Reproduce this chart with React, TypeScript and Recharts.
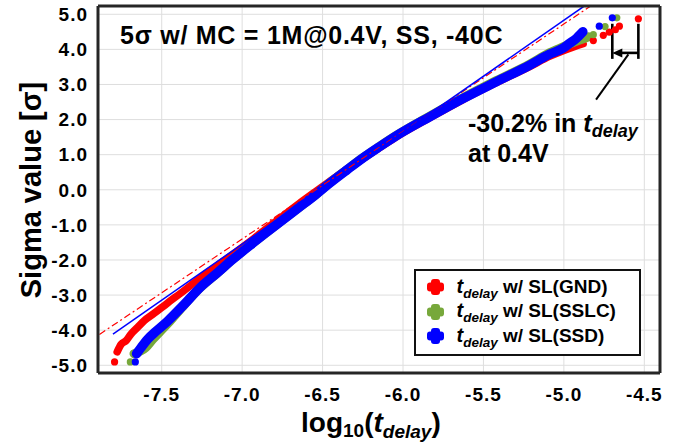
import React from 'react';
import {
  ComposedChart,
  Line,
  Scatter,
  XAxis,
  YAxis,
  CartesianGrid,
  ReferenceLine,
  Legend,
} from 'recharts';

const FONT = '"Liberation Sans", Arial, Helvetica, sans-serif';

const X_TICKS = [-7.5, -7.0, -6.5, -6.0, -5.5, -5.0, -4.5];
const Y_TICKS = [-5, -4, -3, -2, -1, 0, 1, 2, 3, 4, 5];
const X_DOMAIN = [-7.896, -4.4025];
const Y_DOMAIN = [-5.22, 5.236];

// centre of the dense band of MC samples (log10 t_delay vs sigma)
const gndBand = [
  { x: -7.777, y: -4.62 }, { x: -7.752, y: -4.4 }, { x: -7.721, y: -4.3 },
  { x: -7.691, y: -4.11 }, { x: -7.65, y: -3.92 }, { x: -7.609, y: -3.73 },
  { x: -7.547, y: -3.52 }, { x: -7.465, y: -3.23 }, { x: -7.363, y: -2.88 },
  { x: -7.26, y: -2.51 }, { x: -7.158, y: -2.17 }, { x: -7.055, y: -1.83 },
  { x: -6.953, y: -1.48 }, { x: -6.85, y: -1.11 }, { x: -6.748, y: -0.75 },
  { x: -6.645, y: -0.39 }, { x: -6.543, y: -0.05 }, { x: -6.455, y: 0.24 },
  { x: -6.35, y: 0.58 }, { x: -6.248, y: 0.89 }, { x: -6.145, y: 1.2 },
  { x: -6.041, y: 1.51 }, { x: -5.834, y: 2.05 }, { x: -5.627, y: 2.57 },
  { x: -5.42, y: 3.05 }, { x: -5.213, y: 3.51 }, { x: -5.09, y: 3.8 },
  { x: -5.0, y: 3.97 }, { x: -4.94, y: 4.07 }, { x: -4.88, y: 4.16 },
];
const sslcBand = [
  { x: -7.672, y: -4.67 }, { x: -7.6, y: -4.5 }, { x: -7.555, y: -4.26 },
  { x: -7.51, y: -4.04 }, { x: -7.45, y: -3.75 }, { x: -7.36, y: -3.28 },
  { x: -7.258, y: -2.78 }, { x: -7.156, y: -2.38 }, { x: -7.055, y: -1.97 },
  { x: -6.953, y: -1.59 }, { x: -6.85, y: -1.22 }, { x: -6.748, y: -0.86 },
  { x: -6.645, y: -0.5 }, { x: -6.543, y: -0.14 }, { x: -6.455, y: 0.2 },
  { x: -6.35, y: 0.57 }, { x: -6.248, y: 0.92 }, { x: -6.145, y: 1.24 },
  { x: -6.041, y: 1.55 }, { x: -5.834, y: 2.1 }, { x: -5.627, y: 2.62 },
  { x: -5.42, y: 3.11 }, { x: -5.213, y: 3.58 }, { x: -5.09, y: 3.9 },
  { x: -5.006, y: 4.07 }, { x: -4.94, y: 4.2 }, { x: -4.88, y: 4.3 },
  { x: -4.848, y: 4.36 },
];
const ssdBand = [
  { x: -7.656, y: -4.67 }, { x: -7.629, y: -4.5 }, { x: -7.588, y: -4.26 },
  { x: -7.537, y: -4.04 }, { x: -7.465, y: -3.75 }, { x: -7.363, y: -3.28 },
  { x: -7.26, y: -2.78 }, { x: -7.158, y: -2.38 }, { x: -7.055, y: -1.97 },
  { x: -6.953, y: -1.59 }, { x: -6.85, y: -1.22 }, { x: -6.748, y: -0.86 },
  { x: -6.645, y: -0.5 }, { x: -6.543, y: -0.14 }, { x: -6.455, y: 0.19 },
  { x: -6.35, y: 0.56 }, { x: -6.248, y: 0.91 }, { x: -6.145, y: 1.23 },
  { x: -6.041, y: 1.54 }, { x: -5.834, y: 2.08 }, { x: -5.627, y: 2.6 },
  { x: -5.42, y: 3.08 }, { x: -5.213, y: 3.55 }, { x: -5.09, y: 3.86 },
  { x: -5.006, y: 4.03 }, { x: -4.965, y: 4.17 }, { x: -4.923, y: 4.31 },
  { x: -4.882, y: 4.5 },
];

// isolated samples at both tails
const gndTail = [
  { x: -7.793, y: -4.905 }, { x: -4.817, y: 4.25 }, { x: -4.755, y: 4.4 },
  { x: -4.718, y: 4.49 }, { x: -4.68, y: 4.56 }, { x: -4.655, y: 4.66 },
  { x: -4.537, y: 4.87 },
];
const sslcTail = [
  { x: -7.695, y: -4.905 }, { x: -4.817, y: 4.42 }, { x: -4.744, y: 4.65 },
  { x: -4.671, y: 4.9 },
];
const ssdTail = [
  { x: -7.664, y: -4.905 }, { x: -4.78, y: 4.66 }, { x: -4.699, y: 4.9 },
];

// fitted normal lines
const gndFit = [{ x: -7.887, y: -4.12 }, { x: -4.838, y: 5.22 }];
const ssdFit = [{ x: -7.803, y: -4.11 }, { x: -4.878, y: 5.22 }];

// -30.2% bracket annotation
const BRACKET_X = [-4.699, -4.537];
const BRACKET_Y = [3.73, 4.73];
const ARROW_Y = 3.9;
const LEADER = [{ x: -4.599, y: 3.86 }, { x: -4.8, y: 2.57 }];

const SERIES = [
  { name: 'SL(GND)', color: '#ff0000', band: gndBand, tail: gndTail, width: 7.5 },
  { name: 'SL(SSLC)', color: '#77a83b', band: sslcBand, tail: sslcTail, width: 9 },
  { name: 'SL(SSD)', color: '#0000ff', band: ssdBand, tail: ssdTail, width: 9.5 },
];

const AXIS_DARK = '#262626';
const TICK_GREY = '#8c8c8c';
const tickStyle = { fontSize: 19, fontWeight: 'bold', fill: '#000', fontFamily: FONT, letterSpacing: 1 };

function ArrowShape(props: any) {
  const { x1, y1, x2, y2 } = props;
  const dir = x2 < x1 ? 1 : -1;
  return (
    <g>
      <line x1={x1} y1={y1} x2={x2 + dir * 6} y2={y2} stroke="#000" strokeWidth={2.6} />
      <polygon points={`${x2},${y2} ${x2 + dir * 10},${y2 - 4.5} ${x2 + dir * 10},${y2 + 4.5}`} fill="#000" />
    </g>
  );
}

function LegendBox() {
  return (
    <div
      style={{
        width: 227,
        height: 87,
        boxSizing: 'border-box',
        border: '2.5px solid #111',
        background: '#fff',
        padding: '4px 0 0 10.5px',
      }}
    >
      {SERIES.map(s => (
        <div key={s.name} style={{ display: 'flex', alignItems: 'center', height: 24.5 }}>
          <svg width={17} height={16} style={{ flex: 'none' }}>
            <rect x={0} y={3.5} width={17} height={9} rx={3} fill={s.color} />
            <rect x={4} y={0} width={9} height={16} rx={3} fill={s.color} />
          </svg>
          <span
            style={{
              marginLeft: 13,
              fontFamily: FONT,
              fontWeight: 'bold',
              fontSize: 19,
              color: '#000',
              whiteSpace: 'nowrap',
              lineHeight: '20px',
            }}
          >
            <span style={{ fontStyle: 'italic', fontSize: 20 }}>t</span>
            <span style={{ fontStyle: 'italic', fontSize: 13.5, position: 'relative', top: 5 }}>delay</span>
            {' w/ ' + s.name}
          </span>
        </div>
      ))}
    </div>
  );
}

export default function App() {
  return (
    <div style={{ position: 'absolute', left: 0, top: 0, width: 686, height: 447, background: '#fff' }}>
      <ComposedChart width={686} height={447} margin={{ top: 6, right: 26, bottom: 44, left: 8 }}>
        <CartesianGrid stroke="#dedede" strokeWidth={1} />

        <XAxis
          type="number"
          dataKey="x"
          domain={X_DOMAIN}
          ticks={X_TICKS}
          allowDataOverflow
          height={30}
          tickLine={false}
          tickMargin={9}
          axisLine={{ stroke: AXIS_DARK, strokeWidth: 3 }}
          tick={tickStyle}
          tickFormatter={(v: number) => v.toFixed(1)}
        />
        <YAxis
          type="number"
          dataKey="y"
          domain={Y_DOMAIN}
          ticks={Y_TICKS}
          allowDataOverflow
          width={90}
          tickLine={false}
          tickMargin={4}
          axisLine={{ stroke: AXIS_DARK, strokeWidth: 3 }}
          tick={tickStyle}
          tickFormatter={(v: number) => v.toFixed(1)}
        />
        {/* frame + inward ticks */}
        <XAxis xAxisId="top" orientation="top" mirror type="number" domain={X_DOMAIN} ticks={X_TICKS}
          allowDataOverflow tick={false} tickSize={6} tickLine={{ stroke: TICK_GREY, strokeWidth: 1.5 }}
          axisLine={{ stroke: AXIS_DARK, strokeWidth: 3 }} />
        <XAxis xAxisId="inner" orientation="bottom" mirror type="number" domain={X_DOMAIN} ticks={X_TICKS}
          allowDataOverflow tick={false} tickSize={6} tickLine={{ stroke: TICK_GREY, strokeWidth: 1.5 }}
          axisLine={false} />
        <YAxis yAxisId="right" orientation="right" mirror type="number" domain={Y_DOMAIN} ticks={Y_TICKS}
          allowDataOverflow tick={false} tickSize={6} tickLine={{ stroke: TICK_GREY, strokeWidth: 1.5 }}
          axisLine={{ stroke: AXIS_DARK, strokeWidth: 3 }} />
        <YAxis yAxisId="inner" orientation="left" mirror type="number" domain={Y_DOMAIN} ticks={Y_TICKS}
          allowDataOverflow tick={false} tickSize={5} tickLine={{ stroke: TICK_GREY, strokeWidth: 1.5 }}
          axisLine={false} />

        {SERIES.map(s => (
          <Line
            key={'band-' + s.name}
            data={s.band}
            dataKey="y"
            type="monotone"
            stroke={s.color}
            strokeWidth={s.width}
            strokeLinecap="round"
            strokeLinejoin="round"
            dot={false}
            activeDot={false}
            legendType="none"
            isAnimationActive={false}
          />
        ))}
        {SERIES.map(s => (
          <Scatter
            key={'tail-' + s.name}
            data={s.tail}
            dataKey="y"
            fill={s.color}
            legendType="none"
            shape={(p: any) => <circle cx={p.cx} cy={p.cy} r={3.6} fill={s.color} />}
            isAnimationActive={false}
          />
        ))}

        <Line data={gndFit} dataKey="y" type="linear" stroke="#ff0000" strokeWidth={1.2}
          strokeDasharray="7 3 2 3" dot={false} activeDot={false} legendType="none" isAnimationActive={false} />
        <Line data={ssdFit} dataKey="y" type="linear" stroke="#0000ff" strokeWidth={1.5}
          dot={false} activeDot={false} legendType="none" isAnimationActive={false} />

        {BRACKET_X.map(bx => (
          <ReferenceLine key={bx} segment={[{ x: bx, y: BRACKET_Y[0] }, { x: bx, y: BRACKET_Y[1] }]}
            stroke="#000" strokeWidth={2.6} ifOverflow="visible" />
        ))}
        <ReferenceLine
          segment={[{ x: BRACKET_X[1], y: ARROW_Y }, { x: BRACKET_X[0], y: ARROW_Y }]}
          shape={ArrowShape}
          ifOverflow="visible"
        />
        <ReferenceLine segment={LEADER} stroke="#000" strokeWidth={2} ifOverflow="visible" />

        <Legend
          layout="vertical"
          align="center"
          verticalAlign="middle"
          content={<LegendBox />}
          wrapperStyle={{ left: 414, top: 269, width: 227, height: 87 }}
        />
      </ComposedChart>

      <svg
        width={686}
        height={447}
        style={{ position: 'absolute', left: 0, top: 0, pointerEvents: 'none' }}
        fontFamily={FONT}
        fontWeight="bold"
        fill="#000"
      >
        <text x={120} y={44} fontSize={25} letterSpacing={0.75}>5σ w/ MC = 1M@0.4V, SS, -40C</text>
        <text x={468} y={132} fontSize={25}>
          -30.2% in{' '}
          <tspan fontStyle="italic">t</tspan>
          <tspan fontStyle="italic" fontSize={18} dy={5}>delay</tspan>
        </text>
        <text x={468} y={161.5} fontSize={25}>at 0.4V</text>
        <text transform="translate(41,190) rotate(-90)" textAnchor="middle" fontSize={29}>
          Sigma value [σ]
        </text>
        <text x={301} y={432} fontSize={28}>
          log
          <tspan fontSize={19} dy={5}>10</tspan>
          <tspan dy={-5}>(</tspan>
          <tspan fontStyle="italic">t</tspan>
          <tspan fontStyle="italic" fontSize={19} dy={6}>delay</tspan>
          <tspan dy={-6}>)</tspan>
        </text>
      </svg>
    </div>
  );
}
